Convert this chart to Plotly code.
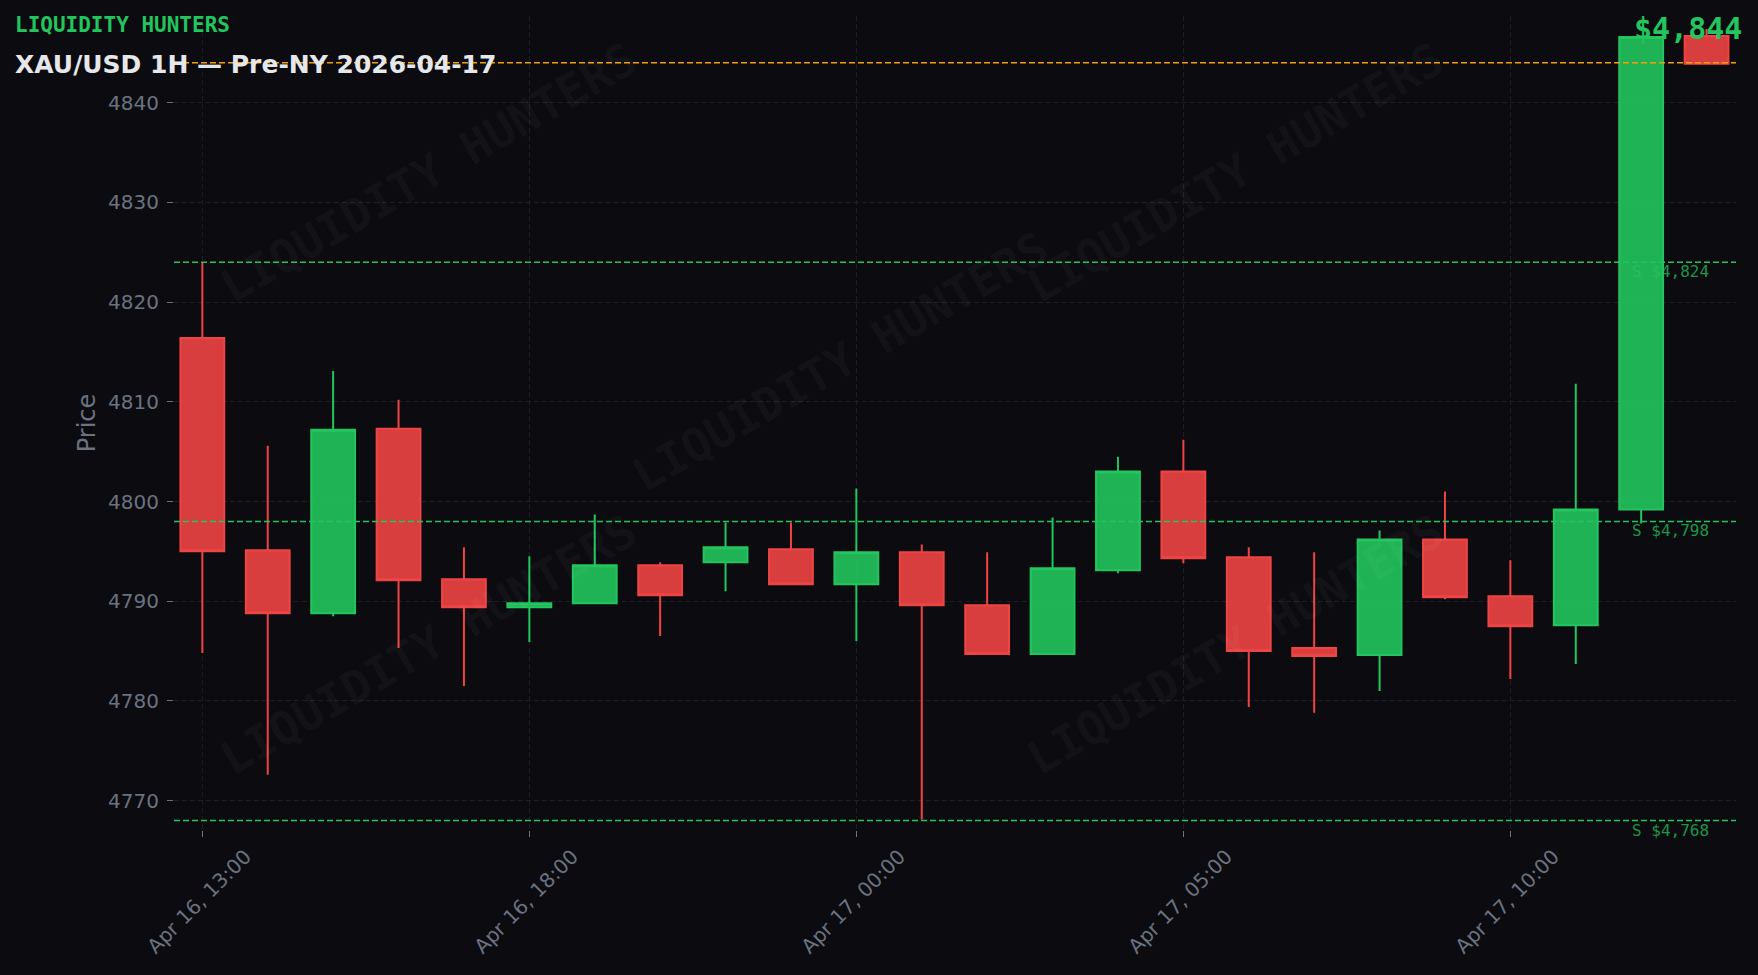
import plotly.graph_objects as go

# hourly bars, the 21:00 hour is the daily break and has no bar
TIMES = [
    "2026-04-16 13:00", "2026-04-16 14:00", "2026-04-16 15:00", "2026-04-16 16:00",
    "2026-04-16 17:00", "2026-04-16 18:00", "2026-04-16 19:00", "2026-04-16 20:00",
    "2026-04-16 22:00", "2026-04-16 23:00", "2026-04-17 00:00", "2026-04-17 01:00",
    "2026-04-17 02:00", "2026-04-17 03:00", "2026-04-17 04:00", "2026-04-17 05:00",
    "2026-04-17 06:00", "2026-04-17 07:00", "2026-04-17 08:00", "2026-04-17 09:00",
    "2026-04-17 10:00", "2026-04-17 11:00", "2026-04-17 12:00", "2026-04-17 13:00",
]
OPEN = [
    4816.4, 4795.1, 4788.8, 4807.3, 4792.2, 4789.4, 4789.8, 4793.6,
    4793.9, 4795.2, 4791.7, 4794.9, 4789.6, 4784.7, 4793.1, 4803.0,
    4794.4, 4785.3, 4784.6, 4796.2, 4790.5, 4787.6, 4799.2, 4846.7,
]
HIGH = [
    4824.0, 4805.6, 4813.1, 4810.2, 4795.4, 4794.5, 4798.7, 4793.9,
    4797.9, 4797.9, 4801.3, 4795.7, 4794.9, 4798.4, 4804.5, 4806.2,
    4795.4, 4794.9, 4797.1, 4801.0, 4794.1, 4811.8, 4846.6, 4847.4,
]
LOW = [
    4784.8, 4772.6, 4788.5, 4785.3, 4781.5, 4785.9, 4789.7, 4786.5,
    4791.0, 4791.7, 4786.0, 4768.1, 4784.7, 4784.7, 4792.8, 4793.8,
    4779.4, 4778.8, 4781.0, 4790.2, 4782.2, 4783.7, 4797.8, 4843.9,
]
CLOSE = [
    4795.0, 4788.8, 4807.2, 4792.1, 4789.4, 4789.8, 4793.6, 4790.6,
    4795.4, 4791.7, 4794.9, 4789.6, 4784.7, 4793.3, 4803.0, 4794.3,
    4785.0, 4784.5, 4796.2, 4790.4, 4787.5, 4799.2, 4846.6, 4843.9,
]
SUPPORT_LEVELS = [4824, 4798, 4768]
CURRENT_PRICE = 4844
TICK_TIMES = [
    "2026-04-16 13:00", "2026-04-16 18:00", "2026-04-17 00:00",
    "2026-04-17 05:00", "2026-04-17 10:00",
]
Y_RANGE = [4767.05, 4848.7]
X_RANGE = ["2026-04-16 12:34", "2026-04-17 13:27"]

BRAND = "LIQUIDITY HUNTERS"
TITLE = "XAU/USD 1H — Pre-NY 2026-04-17"

BG = "#0b0b10"
GREEN = "#22c55e"
RED = "#ef4444"
ORANGE = "#f59e0b"
GREY = "#6b7280"
GRID = "#1e1e28"

FIG_W, FIG_H = 1758, 975
ML, MR, MT, MB = 174, 22, 16, 145
PW = FIG_W - ML - MR
PH = FIG_H - MT - MB


def paper_x(px):
    return (px - ML) / PW


def paper_y(py):
    return (FIG_H - MB - py) / PH


fig = go.Figure(
    go.Candlestick(
        x=TIMES,
        open=OPEN,
        high=HIGH,
        low=LOW,
        close=CLOSE,
        increasing=dict(line=dict(color=GREEN, width=2), fillcolor="rgba(34,197,94,0.9)"),
        decreasing=dict(line=dict(color=RED, width=2), fillcolor="rgba(239,68,68,0.9)"),
        showlegend=False,
    )
)

# support levels + current price
for level in SUPPORT_LEVELS:
    fig.add_shape(
        type="line", xref="paper", x0=0, x1=1, yref="y", y0=level, y1=level,
        line=dict(color=GREEN, width=1.5, dash="6px,3px"),
    )
    fig.add_annotation(
        xref="paper", x=paper_x(1630), xanchor="left",
        yref="y", y=level, yanchor="top", yshift=2,
        text=f"S ${level:,}", showarrow=False,
        font=dict(family="DejaVu Sans Mono", size=16, color="rgba(34,197,94,0.75)"),
    )

fig.add_shape(
    type="line", xref="paper", x0=0, x1=1, yref="y", y0=CURRENT_PRICE, y1=CURRENT_PRICE,
    line=dict(color=ORANGE, width=1.5, dash="6px,3px"),
)

# watermark
for wx, wy in [(428, 173), (1235, 173), (840, 362), (428, 645), (1235, 645)]:
    fig.add_annotation(
        xref="paper", yref="paper", x=paper_x(wx), y=paper_y(wy),
        xanchor="center", yanchor="middle", textangle=-30,
        text=f"<b>{BRAND}</b>", showarrow=False,
        font=dict(family="DejaVu Sans Mono", size=46, color="rgba(255,255,255,0.045)"),
    )

fig.add_annotation(
    xref="paper", yref="paper", x=paper_x(13), y=paper_y(25),
    xanchor="left", yanchor="middle", text=f"<b>{BRAND}</b>", showarrow=False,
    font=dict(family="DejaVu Sans Mono", size=21, color=GREEN),
)
fig.add_annotation(
    xref="paper", yref="paper", x=paper_x(13), y=paper_y(64),
    xanchor="left", yanchor="middle", text=f"<b>{TITLE}</b>", showarrow=False,
    font=dict(family="DejaVu Sans", size=25, color="#e5e7eb"),
)
fig.add_annotation(
    xref="paper", yref="paper", x=paper_x(1744), y=paper_y(28),
    xanchor="right", yanchor="middle", text=f"<b>${CURRENT_PRICE:,}</b>", showarrow=False,
    font=dict(family="DejaVu Sans Mono", size=30, color=GREEN),
)

fig.update_layout(
    width=FIG_W,
    height=FIG_H,
    margin=dict(l=ML, r=MR, t=MT, b=MB),
    paper_bgcolor=BG,
    plot_bgcolor=BG,
    boxgap=0,
    boxgroupgap=0.33,
    font=dict(family="DejaVu Sans", size=20, color=GREY),
    xaxis=dict(
        type="date",
        range=X_RANGE,
        rangeslider=dict(visible=False),
        rangebreaks=[dict(values=["2026-04-16 21:00"], dvalue=3600000)],
        tickvals=TICK_TIMES,
        tickformat="%b %d, %H:%M",
        tickangle=-45,
        ticklabelshift=43,
        ticks="outside",
        ticklen=6,
        tickcolor=GREY,
        showgrid=True,
        gridcolor=GRID,
        griddash="5px,3px",
        zeroline=False,
        showline=False,
    ),
    yaxis=dict(
        range=Y_RANGE,
        dtick=10,
        ticks="outside",
        ticklen=6,
        tickcolor=GREY,
        ticklabelstandoff=4,
        showgrid=True,
        gridcolor=GRID,
        griddash="5px,3px",
        zeroline=False,
        showline=False,
        title=dict(text="Price", standoff=5),
    ),
)

fig.write_html(
    "out.html",
    config={"displayModeBar": False},
    post_script="document.body.style.margin='0';document.body.style.background='" + BG + "';",
)
